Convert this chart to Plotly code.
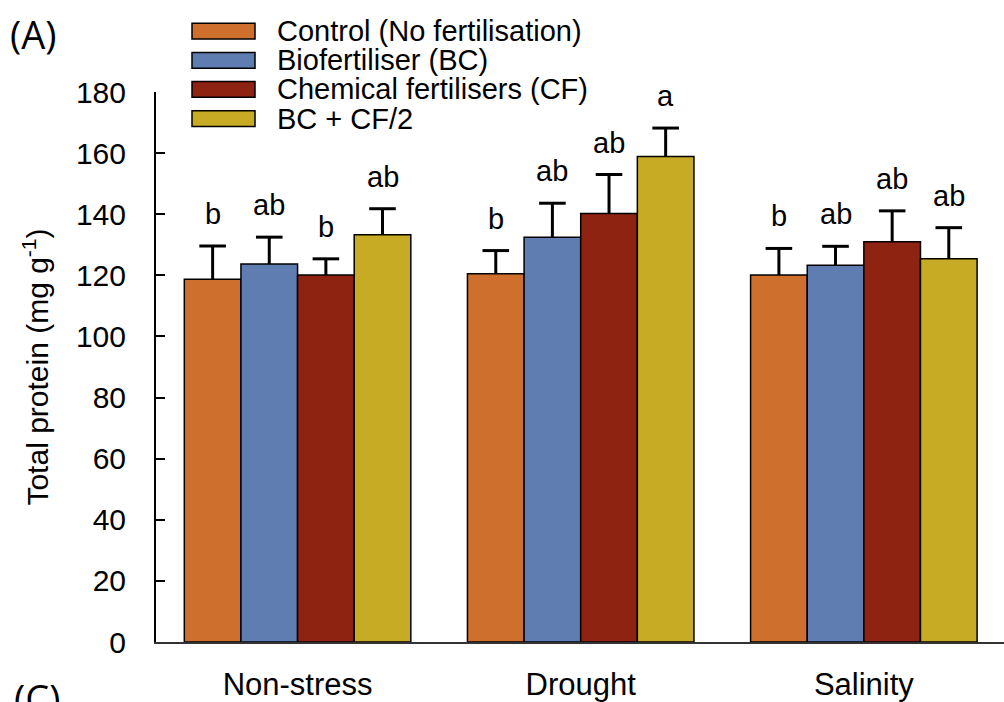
import plotly.graph_objects as go

# Stress conditions on the x axis
conditions = ["Non-stress", "Drought", "Salinity"]

# Fertilisation treatments (one bar series each)
treatments = [
    "Control (No fertilisation)",
    "Biofertiliser (BC)",
    "Chemical fertilisers (CF)",
    "BC + CF/2",
]

# Mean total protein (mg g-1) per treatment, across conditions
control_mean = [118.7, 120.5, 120.1]
bc_mean = [123.7, 132.5, 123.3]
cf_mean = [120.1, 140.2, 131.0]
bc_cf2_mean = [133.3, 158.9, 125.4]

# Standard errors
control_se = [10.9, 7.6, 8.7]
bc_se = [8.8, 11.1, 6.2]
cf_se = [5.3, 12.8, 10.1]
bc_cf2_se = [8.5, 9.3, 10.2]

# Significance letters
control_letters = ["b", "b", "b"]
bc_letters = ["ab", "ab", "ab"]
cf_letters = ["b", "ab", "ab"]
bc_cf2_letters = ["ab", "a", "ab"]

colors = ["#CF6F2E", "#607DB2", "#8E2312", "#C8AB24"]

means = [control_mean, bc_mean, cf_mean, bc_cf2_mean]
ses = [control_se, bc_se, cf_se, bc_cf2_se]
letters = [control_letters, bc_letters, cf_letters, bc_cf2_letters]

W, H = 1004, 702
L, R, T, B = 156, 0, 92, 49
PW, PH = W - L - R, H - T - B


def px_x(p):
    return (p - L) / PW


def px_y(p):
    return (H - B - p) / PH


FONT = "Liberation Sans, Arial, Helvetica, sans-serif"

n = len(treatments)
bar_w = 0.8 / n
cond_idx = list(range(len(conditions)))

fig = go.Figure()
annotations = []
for i in range(n):
    off = (i - (n - 1) / 2) * bar_w
    xs = [j + off for j in cond_idx]
    tops = [m + s for m, s in zip(means[i], ses[i])]

    fig.add_trace(go.Bar(
        x=xs, y=means[i], width=bar_w, name=treatments[i],
        marker=dict(color=colors[i], line=dict(color="black", width=1.5)),
        showlegend=False,
    ))

    # upper-only error bar: stem from the bar top plus a cap
    stem_x, stem_y = [], []
    for x, m, t in zip(xs, means[i], tops):
        stem_x += [x, x, None]
        stem_y += [m, t, None]
    fig.add_trace(go.Scatter(
        x=stem_x, y=stem_y, mode="lines",
        line=dict(color="black", width=3), showlegend=False, hoverinfo="skip",
    ))
    fig.add_trace(go.Scatter(
        x=xs, y=tops, mode="markers",
        marker=dict(symbol="line-ew-open", size=19, color="black",
                    line=dict(color="black", width=3)),
        showlegend=False, hoverinfo="skip",
    ))

    # significance letters above each error bar
    for x, t, lab in zip(xs, tops, letters[i]):
        annotations.append(dict(
            x=x, y=t, xref="x", yref="y", text=lab, showarrow=False,
            yanchor="bottom", yshift=14,
            font=dict(family=FONT, size=29, color="black"),
        ))

# Legend: wide swatches with labels
shapes = []
for i in range(n):
    cy = 30 + 29.7 * i
    shapes.append(dict(
        type="rect", xref="paper", yref="paper",
        x0=px_x(192), x1=px_x(255), y0=px_y(cy + 8), y1=px_y(cy - 8),
        fillcolor=colors[i], line=dict(color="black", width=1.5),
    ))
    annotations.append(dict(
        x=px_x(275), y=px_y(cy), xref="paper", yref="paper",
        text=treatments[i], showarrow=False, xanchor="left", yanchor="middle",
        font=dict(family=FONT, size=29, color="black"),
    ))

# Panel tags
annotations.append(dict(
    x=px_x(8), y=px_y(33), xref="paper", yref="paper", text="(A)",
    showarrow=False, xanchor="left", yanchor="middle",
    font=dict(family="Open Sans, sans-serif", size=38, color="black"),
))
annotations.append(dict(
    x=px_x(12), y=px_y(682), xref="paper", yref="paper", text="(C)",
    showarrow=False, xanchor="left", yanchor="top",
    font=dict(family="Open Sans, sans-serif", size=38, color="black"),
))

fig.update_layout(
    width=W, height=H,
    margin=dict(l=L, r=R, t=T, b=B, pad=0),
    paper_bgcolor="white", plot_bgcolor="white",
    barmode="overlay",
    shapes=shapes, annotations=annotations,
    font=dict(family=FONT, color="black"),
)
fig.update_xaxes(
    range=[-0.5, 2.495], showline=True, linecolor="#333333", linewidth=2,
    tickmode="array", tickvals=cond_idx, ticktext=conditions,
    ticks="", showgrid=False, zeroline=False,
    tickfont=dict(family=FONT, size=31, color="black"),
    ticklabelstandoff=14,
)
fig.update_yaxes(
    range=[0, 180], dtick=20, showline=True, linecolor="black", linewidth=2,
    ticks="inside", ticklen=9, tickwidth=1.5, tickcolor="black",
    showgrid=False, zeroline=False,
    tickfont=dict(family=FONT, size=30, color="black"),
    ticklabelstandoff=22,
    title=dict(text="Total protein (mg g<sup>-1</sup>)", standoff=18,
               font=dict(family=FONT, size=30, color="black")),
)

fig.write_html("out.html")
